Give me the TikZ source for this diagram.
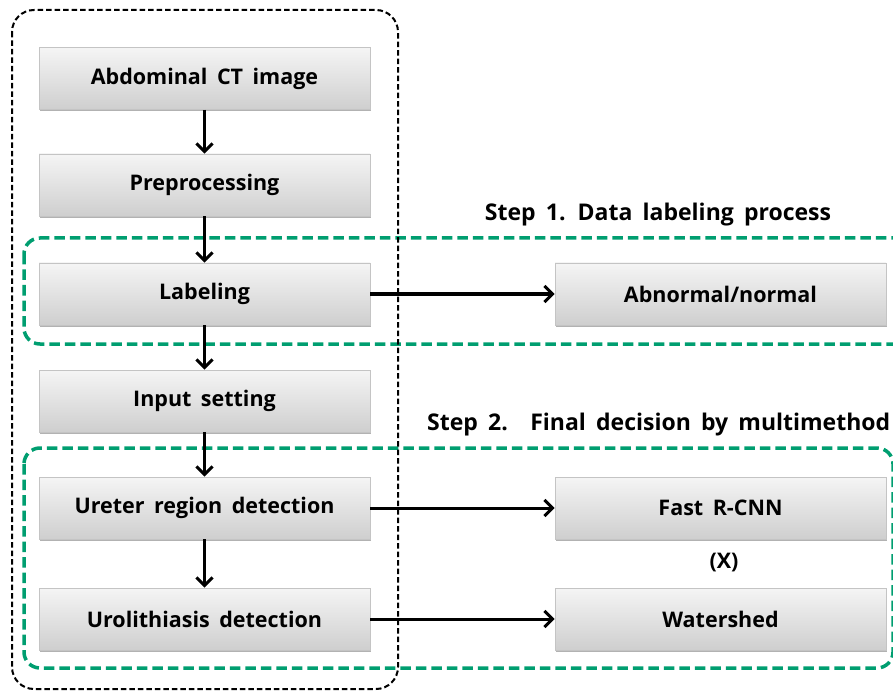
\documentclass[tikz,border=0pt]{standalone}
\usepackage{fontspec}
\setmainfont{Open Sans}[WordSpace=1.7]
\usetikzlibrary{arrows.meta,shadows}
\definecolor{boxline}{HTML}{C4C4C4}
\definecolor{stepgreen}{RGB}{0,158,112}
\begin{document}
\begin{tikzpicture}[x=1pt,y=-1pt,
  procbox/.style={draw=boxline, line width=0.8pt, top color=black!4, bottom color=black!19,
    minimum width=331pt, minimum height=62pt, inner sep=0pt,
    font=\fontsize{21.5}{25}\selectfont\bfseries,
    drop shadow={shadow xshift=1.2pt, shadow yshift=-1.8pt, opacity=0.3, fill=black}},
  flow/.style={line width=3pt, -{Straight Barb[length=8pt,width=16pt,line width=3pt]}},
  outerframe/.style={draw=black, line width=2pt, dash pattern=on 5.5pt off 3pt, rounded corners=22pt},
  stepframe/.style={draw=stepgreen, line width=3.5pt, dash pattern=on 10.5pt off 5pt, rounded corners=16pt},
  steptitle/.style={font=\fontsize{23}{27}\selectfont\bfseries, inner sep=0pt}]
\useasboundingbox (0,0) rectangle (893,692);

% step frames (the first runs off the right edge) and the outer pipeline frame
\draw[stepframe] (24,238) rectangle (910,344);
\draw[stepframe] (24,448) rectangle (893,668);
\draw[outerframe] (12,10) rectangle (398,689);

% titles of the two steps
\node[steptitle] (s1) at (658,215) {Step 1.  Data labeling process};
\node[steptitle, anchor=west] (s2) at (427,425) {Step 2.\hspace{0.45em} Final decision by multimethod};

% pipeline boxes
\node[procbox] (ct)    at (204.5,78.5) {Abdominal  CT  image};
\node[procbox] (pre)   at (204.5,185)  {Preprocessing};
\node[procbox] (lab)   at (204.5,294)  {Labeling};
\node[procbox] (inp)   at (204.5,401)  {Input setting};
\node[procbox] (ure)   at (204.5,508)  {Ureter  region  detection};
\node[procbox] (uro)   at (204.5,619)  {Urolithiasis  detection};

% result boxes
\node[procbox] (abn)   at (720.5,294)  {Abnormal/normal};
\node[procbox] (frcnn) at (720.5,508)  {Fast R-CNN};
\node[procbox] (wat)   at (720.5,619)  {Watershed};
\node[font=\fontsize{21.5}{25}\selectfont\bfseries] (x) at (724,563) {(X)};

% connectors
\draw[flow] (ct) -- (pre);
\draw[flow] (pre) -- (lab);
\draw[flow] (lab) -- (inp);
\draw[flow] (inp) -- (ure);
\draw[flow] (ure) -- (uro);
\draw[flow] (lab) -- (abn);
\draw[flow] (ure) -- (frcnn);
\draw[flow] (uro) -- (wat);
\end{tikzpicture}
\end{document}
